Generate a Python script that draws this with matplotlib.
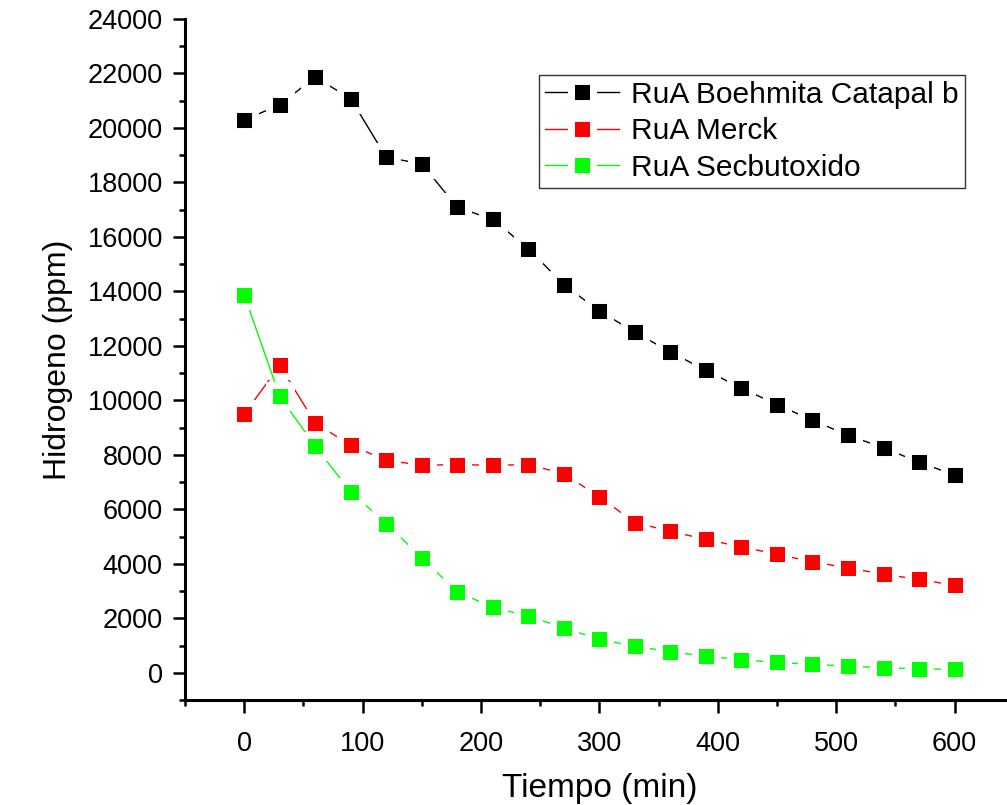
import matplotlib
matplotlib.use("Agg")
import matplotlib.pyplot as plt
from matplotlib.ticker import MultipleLocator

plt.rcParams['font.family'] = ['Liberation Sans', 'DejaVu Sans']

# tiempo en minutos
tiempo = [0, 30, 60, 90, 120, 150, 180, 210, 240, 270, 300,
          330, 360, 390, 420, 450, 480, 510, 540, 570, 600]

boehmita = [20290, 20850, 21870, 21070, 18925, 18680, 17090, 16640, 15570, 14245, 13280,
            12505, 11775, 11100, 10450, 9845, 9270, 8720, 8260, 7730, 7260]
merck = [9490, 11285, 9170, 8350, 7800, 7620, 7640, 7620, 7640, 7310, 6455,
         5515, 5195, 4895, 4620, 4355, 4070, 3850, 3620, 3425, 3215]
secbutoxido = [13880, 10150, 8315, 6645, 5480, 4220, 2970, 2400, 2080, 1650, 1225,
               980, 770, 610, 475, 380, 308, 246, 185, 147, 125]

series = [('RuA Boehmita Catapal b', boehmita, 'black'),
          ('RuA Merck', merck, '#ff0000'),
          ('RuA Secbutoxido', secbutoxido, '#00ff00')]

fig = plt.figure(figsize=(10.07, 8.05), dpi=100)
ax = fig.add_axes([0.1837, 0.1304, 0.823, 0.846])

for name, vals, col in series:
    ax.plot(tiempo, vals, color=col, lw=1.0, marker='s', ms=16.5,
            markerfacecolor=col, markeredgecolor='white', markeredgewidth=5.0,
            label=name)

ax.set_xlim(-50, 650)
ax.set_ylim(-1000, 24000)
ax.xaxis.set_major_locator(MultipleLocator(100))
ax.xaxis.set_minor_locator(MultipleLocator(50))
ax.yaxis.set_major_locator(MultipleLocator(2000))
ax.yaxis.set_minor_locator(MultipleLocator(1000))

for s in ['top', 'right']:
    ax.spines[s].set_visible(False)
for s in ['left', 'bottom']:
    ax.spines[s].set_linewidth(2.2)

ax.tick_params(which='major', direction='out', length=9, width=1.8, labelsize=19.5, pad=7)
ax.tick_params(which='minor', direction='out', length=4.5, width=1.8)
ax.tick_params(axis='x', pad=13)

ax.set_xlabel('Tiempo (min)', fontsize=24, labelpad=12)
ax.set_ylabel('Hidrogeno (ppm)', fontsize=23, labelpad=10)

leg = ax.legend(loc='upper right', bbox_to_anchor=(0.958, 0.907),
                bbox_transform=fig.transFigure, fontsize=21.5, frameon=True,
                fancybox=False, edgecolor='black', handlelength=2.5,
                handletextpad=0.4, labelspacing=0.28, borderpad=0.2,
                borderaxespad=0)
leg.get_frame().set_linewidth(1.0)

fig.savefig('out.png', dpi=100)
